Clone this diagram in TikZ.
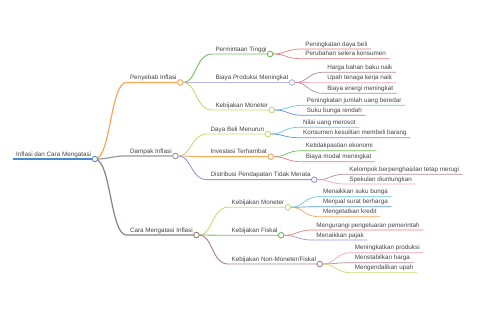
\documentclass[tikz,border=0pt]{standalone}
\usepackage{fontspec}
\setmainfont{Liberation Sans}
\definecolor{cRoot}{HTML}{4A8AD0}
\definecolor{cOrange}{HTML}{F7A65A}
\definecolor{cGray}{HTML}{9A9A9A}
\definecolor{cBrown}{HTML}{8E8084}
\definecolor{cGreen}{HTML}{72BE5E}
\definecolor{cLav}{HTML}{BAB3E6}
\definecolor{cYG}{HTML}{C9DB72}
\definecolor{cRed}{HTML}{E67F7F}
\definecolor{cMauve}{HTML}{B38E9E}
\definecolor{cPink}{HTML}{F3A7BF}
\definecolor{cCyan}{HTML}{6CC6E2}
\definecolor{cBlue}{HTML}{5B97D6}
\definecolor{cPurple}{HTML}{A393E0}
\definecolor{cNM}{HTML}{A9808F}
\definecolor{txt}{HTML}{444444}
\begin{document}
\begin{tikzpicture}[x=1pt,y=-1pt,
  topic/.style={anchor=south west, inner xsep=3.5pt, inner ysep=1pt, text height=5pt, text depth=1.5pt, font=\fontsize{6.3}{7}\selectfont, text=txt},
  sub/.style={topic, xshift=31.5pt},
  dot/.style={circle, inner sep=0pt, minimum size=5.4pt, fill=white, line width=0.8pt},
  l0/.style={line width=1.5pt},
  l1/.style={line width=1.2pt},
  l2/.style={line width=0.9pt},
  l3/.style={line width=0.7pt},
  link/.style={to path={.. controls +(16,0) and +(-16,0) .. (\tikztotarget)}}
]
\fill[white] (0,0) rectangle (480,320);
\useasboundingbox (0,0) rectangle (480,320);

% root
\node[topic] (root) at (12.5,159) {Inflasi dan Cara Mengatasi};
\draw[l0,cRoot] (root.south west) -- (root.south east);

% ---------- Level 1 ----------
\coordinate (c0) at (root.south east);
\node[sub] (p) at (c0 |- 0,82.5) {Penyebab Inflasi};
\node[sub] (d) at (c0 |- 0,156) {Dampak Inflasi};
\node[sub] (m) at (c0 |- 0,235) {Cara Mengatasi Inflasi};
\draw[l1,cOrange] (c0) to[link] (p.south west) -- (p.south east);
\draw[l1,cGray] (c0) to[link] (d.south west) -- (d.south east);
\draw[l1,cBrown] (c0) to[link] (m.south west) -- (m.south east);
\node[dot,draw=cRoot] (cr) at (c0) {};
\node[dot,draw=cOrange] (cp) at (p.south east) {};
\node[dot,draw=cGray] (cd) at (d.south east) {};
\node[dot,draw=cBrown] (cm) at (m.south east) {};

% ---------- Penyebab ----------
\node[sub] (p1) at (cp |- 0,54) {Permintaan Tinggi};
\node[sub] (p2) at (cp |- 0,82.5) {Biaya Produksi Meningkat};
\node[sub] (p3) at (cp |- 0,110) {Kebijakan Moneter};
\draw[l2,cGreen] (cp) to[link] (p1.south west) -- (p1.south east);
\draw[l2,cLav] (cp) to[link] (p2.south west) -- (p2.south east);
\draw[l2,cYG] (cp) to[link] (p3.south west) -- (p3.south east);
\node[dot,draw=cOrange] at (cp) {};
\node[dot,draw=cGreen] (cp1) at (p1.south east) {};
\node[dot,draw=cLav] (cp2) at (p2.south east) {};
\node[dot,draw=cYG] (cp3) at (p3.south east) {};

\node[sub] (p11) at (cp1 |- 0,49) {Peningkatan daya beli};
\node[sub] (p12) at (cp1 |- 0,58.7) {Perubahan selera konsumen};
\draw[l3,cRed] (cp1) to[link] (p11.south west) -- (p11.south east);
\draw[l3,cRed] (cp1) to[link] (p12.south west) -- (p12.south east);
\node[dot,draw=cGreen] at (cp1) {};

\node[sub] (p21) at (cp2 |- 0,72.3) {Harga bahan baku naik};
\node[sub] (p22) at (cp2 |- 0,82.7) {Upah tenaga kerja naik};
\node[sub] (p23) at (cp2 |- 0,93.3) {Biaya energi meningkat};
\draw[l3,cMauve] (cp2) to[link] (p21.south west) -- (p21.south east);
\draw[l3,cPink] (cp2) to[link] (p22.south west) -- (p22.south east);
\draw[l3,cMauve] (cp2) to[link] (p23.south west) -- (p23.south east);
\node[dot,draw=cLav] at (cp2) {};

\node[sub] (p31) at (cp3 |- 0,105.3) {Peningkatan jumlah uang beredar};
\node[sub] (p32) at (cp3 |- 0,115.3) {Suku bunga rendah};
\draw[l3,cCyan] (cp3) to[link] (p31.south west) -- (p31.south east);
\draw[l3,cBlue] (cp3) to[link] (p32.south west) -- (p32.south east);
\node[dot,draw=cYG] at (cp3) {};

% ---------- Dampak ----------
\node[sub] (d1) at (cd |- 0,134) {Daya Beli Menurun};
\node[sub] (d2) at (cd |- 0,156.7) {Investasi Terhambat};
\node[sub] (d3) at (cd |- 0,179.7) {Distribusi Pendapatan Tidak Merata};
\draw[l2,cYG] (cd) to[link] (d1.south west) -- (d1.south east);
\draw[l2,cOrange] (cd) to[link] (d2.south west) -- (d2.south east);
\draw[l2,cPurple] (cd) to[link] (d3.south west) -- (d3.south east);
\node[dot,draw=cGray] at (cd) {};
\node[dot,draw=cYG] (cd1) at (d1.south east) {};
\node[dot,draw=cOrange] (cd2) at (d2.south east) {};
\node[dot,draw=cPurple] (cd3) at (d3.south east) {};

\node[sub] (d11) at (cd1 |- 0,127.3) {Nilai uang merosot};
\node[sub] (d12) at (cd1 |- 0,137.7) {Konsumen kesulitan membeli barang};
\draw[l3,cCyan] (cd1) to[link] (d11.south west) -- (d11.south east);
\draw[l3,cBlue] (cd1) to[link] (d12.south west) -- (d12.south east);
\node[dot,draw=cYG] at (cd1) {};

\node[sub] (d21) at (cd2 |- 0,150.7) {Ketidakpastian ekonomi};
\node[sub] (d22) at (cd2 |- 0,161.7) {Biaya modal meningkat};
\draw[l3,cGreen] (cd2) to[link] (d21.south west) -- (d21.south east);
\draw[l3,cRed] (cd2) to[link] (d22.south west) -- (d22.south east);
\node[dot,draw=cOrange] at (cd2) {};

\node[sub] (d31) at (cd3 |- 0,174.3) {Kelompok berpenghasilan tetap merugi};
\node[sub] (d32) at (cd3 |- 0,184) {Spekulan diuntungkan};
\draw[l3,cMauve] (cd3) to[link] (d31.south west) -- (d31.south east);
\draw[l3,cPink] (cd3) to[link] (d32.south west) -- (d32.south east);
\node[dot,draw=cPurple] at (cd3) {};

% ---------- Cara Mengatasi ----------
\node[sub] (m1) at (cm |- 0,207.3) {Kebijakan Moneter};
\node[sub] (m2) at (cm |- 0,235.3) {Kebijakan Fiskal};
\node[sub] (m3) at (cm |- 0,264) {Kebijakan Non-Moneter/Fiskal};
\draw[l2,cYG] (cm) to[link] (m1.south west) -- (m1.south east);
\draw[l2,cGreen] (cm) to[link] (m2.south west) -- (m2.south east);
\draw[l2,cNM] (cm) to[link] (m3.south west) -- (m3.south east);
\node[dot,draw=cBrown] at (cm) {};
\node[dot,draw=cYG] (cm1) at (m1.south east) {};
\node[dot,draw=cGreen] (cm2) at (m2.south east) {};
\node[dot,draw=cNM] (cm3) at (m3.south east) {};

\node[sub] (m11) at (cm1 |- 0,196.7) {Menaikkan suku bunga};
\node[sub] (m12) at (cm1 |- 0,206.7) {Menjual surat berharga};
\node[sub] (m13) at (cm1 |- 0,216.7) {Mengetatkan kredit};
\draw[l3,cCyan] (cm1) to[link] (m11.south west) -- (m11.south east);
\draw[l3,cBlue] (cm1) to[link] (m12.south west) -- (m12.south east);
\draw[l3,cOrange] (cm1) to[link] (m13.south west) -- (m13.south east);
\node[dot,draw=cYG] at (cm1) {};

\node[sub] (m21) at (cm2 |- 0,230) {Mengurangi pengeluaran pemerintah};
\node[sub] (m22) at (cm2 |- 0,240) {Menaikkan pajak};
\draw[l3,cRed] (cm2) to[link] (m21.south west) -- (m21.south east);
\draw[l3,cPurple] (cm2) to[link] (m22.south west) -- (m22.south east);
\node[dot,draw=cGreen] at (cm2) {};

\node[sub] (m31) at (cm3 |- 0,252.7) {Meningkatkan produksi};
\node[sub] (m32) at (cm3 |- 0,262.7) {Menstabilkan harga};
\node[sub] (m33) at (cm3 |- 0,272.7) {Mengendalikan upah};
\draw[l3,cPink] (cm3) to[link] (m31.south west) -- (m31.south east);
\draw[l3,cMauve] (cm3) to[link] (m32.south west) -- (m32.south east);
\draw[l3,cYG] (cm3) to[link] (m33.south west) -- (m33.south east);
\node[dot,draw=cNM] at (cm3) {};
\end{tikzpicture}
\end{document}
